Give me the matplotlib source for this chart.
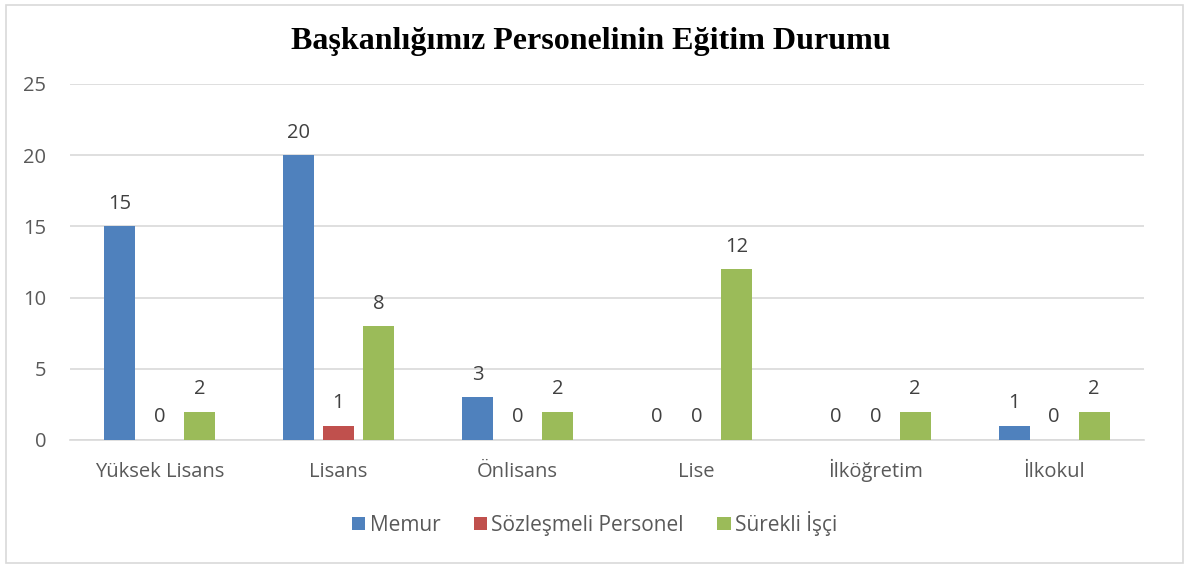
import numpy as np
import matplotlib.pyplot as plt
from matplotlib.patches import Rectangle

categories = ["Yüksek Lisans", "Lisans", "Önlisans", "Lise", "İlköğretim", "İlkokul"]
memur = [15, 20, 3, 0, 0, 1]
sozlesmeli = [0, 1, 0, 0, 0, 0]
surekli = [2, 8, 2, 12, 2, 2]
series_names = ["Memur", "Sözleşmeli Personel", "Sürekli İşçi"]
colors = ["#4F81BD", "#C0504D", "#9BBB59"]

plt.rcParams['font.family'] = ['Open Sans', 'DejaVu Sans']
text_color = "#595959"

fig = plt.figure(figsize=(11.89, 5.67), dpi=100)
ax = fig.add_axes([0.0589, 0.224, 0.903, 0.628])

x = np.arange(len(categories))
width = 0.173
offset = 0.223
for k, (vals, name, col) in enumerate(zip([memur, sozlesmeli, surekli], series_names, colors)):
    pos = x + (k - 1) * offset
    bars = ax.bar(pos, vals, width, color=col, label=name, zorder=3)
    for b, v in zip(bars, vals):
        ax.annotate(str(v), (b.get_x() + b.get_width() / 2, v), xytext=(0, 9),
                    textcoords="offset points", ha="center", va="bottom",
                    fontsize=14.5, color="#404040")

ax.set_xlim(-0.5, len(categories) - 0.5)
ax.set_ylim(0, 25)
ax.set_yticks([0, 5, 10, 15, 20, 25])
ax.set_xticks(x)
ax.set_xticklabels(categories)
ax.tick_params(axis="both", length=0, labelsize=14.5, labelcolor=text_color)
ax.tick_params(axis="x", pad=27)
ax.tick_params(axis="y", pad=17)
for lab in ax.get_xticklabels():
    lab.set_va("baseline")
ax.grid(axis="y", color="#d9d9d9", linewidth=1.2, zorder=0)
for s in ["top", "right", "left"]:
    ax.spines[s].set_visible(False)
ax.spines["bottom"].set_color("#d9d9d9")
ax.spines["bottom"].set_linewidth(1.2)

fig.text(0.497, 0.926, "Başkanlığımız Personelinin Eğitim Durumu", ha="center", va="center",
         fontsize=23, fontweight="bold", family=["Liberation Serif", "DejaVu Serif"])

fig.legend(loc="center", bbox_to_anchor=(0.5, 0.077), ncol=3, frameon=False,
           fontsize=15, labelcolor=text_color, handlelength=0.65, handleheight=0.65,
           handletextpad=0.2, columnspacing=1.6)

fig.patches.append(Rectangle((0.005, 0.007), 0.99, 0.985, transform=fig.transFigure,
                             fill=False, edgecolor="#d9d9d9", linewidth=1.2))

plt.savefig("out.png", dpi=100)
